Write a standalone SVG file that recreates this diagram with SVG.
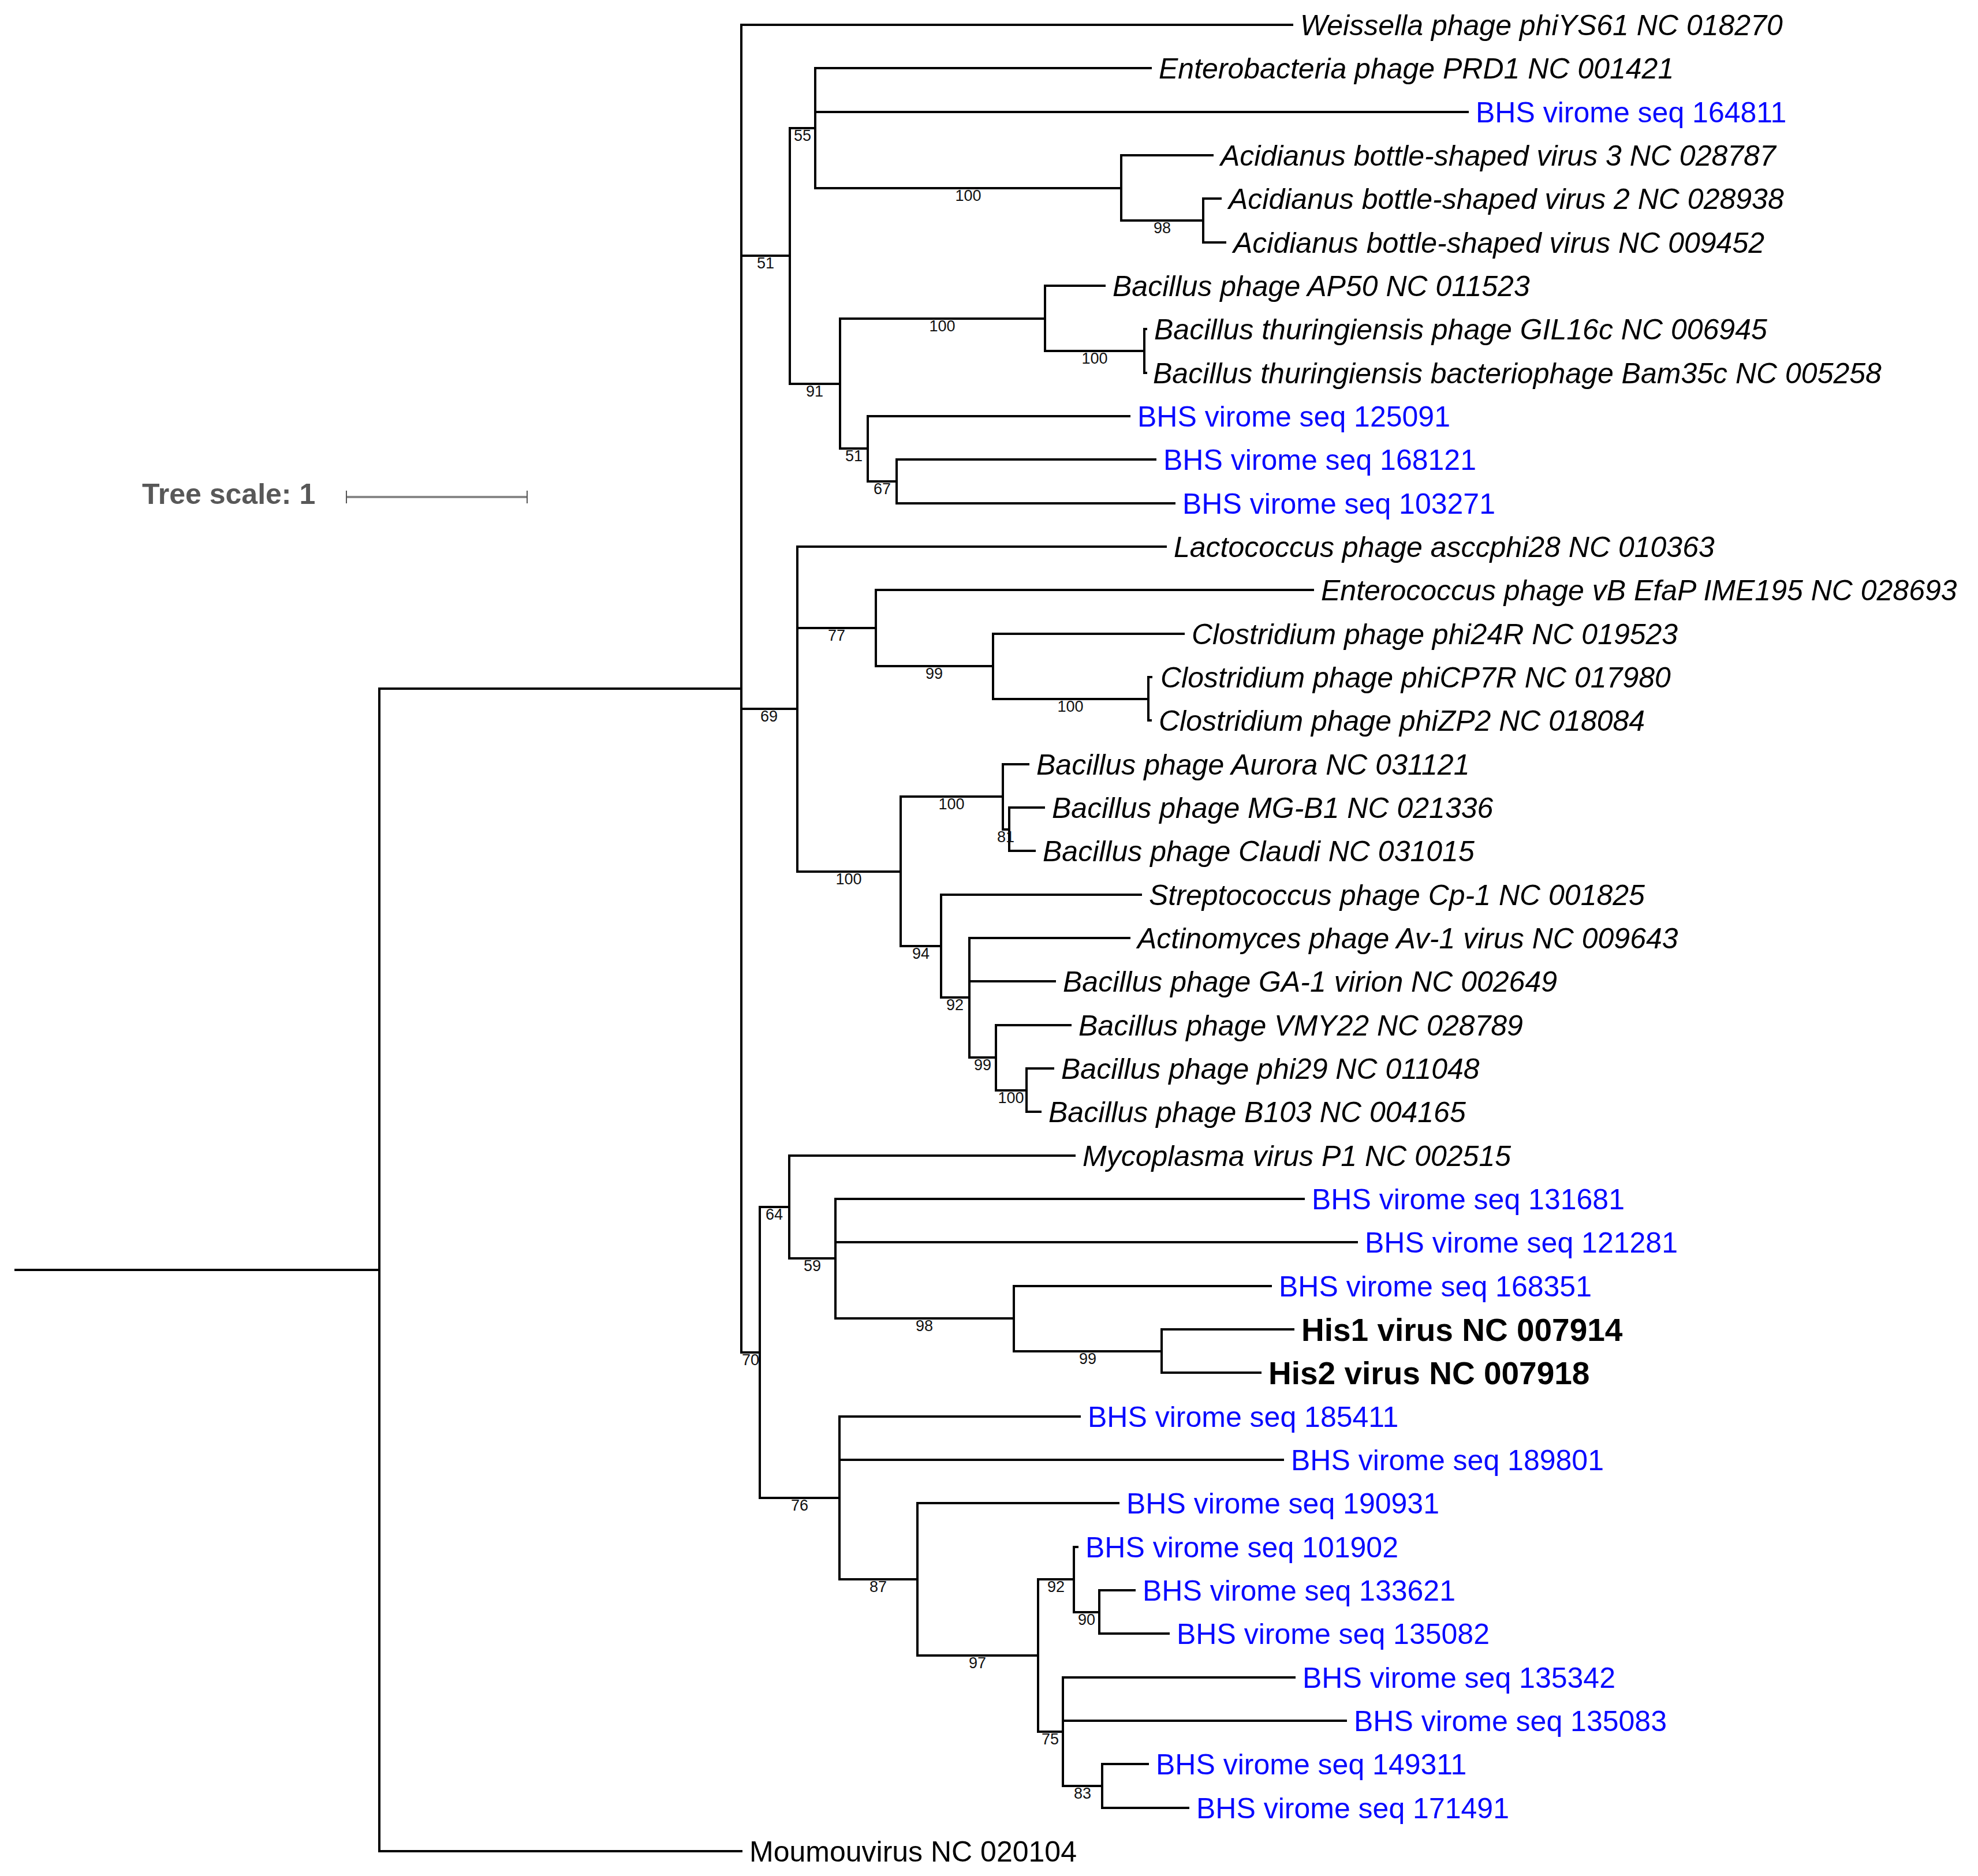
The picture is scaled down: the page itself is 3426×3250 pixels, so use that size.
<svg xmlns="http://www.w3.org/2000/svg" width="3426" height="3250" viewBox="0 0 3426 3250">
<style>
.br{fill:none;stroke:#000;stroke-width:4;stroke-linecap:square}
.lf{font-family:"Liberation Sans",Arial,sans-serif;font-size:50px;font-style:italic;fill:#000}
.bhs{font-family:"Liberation Sans",Arial,sans-serif;font-size:50px;fill:#0a0aff}
.bold{font-family:"Liberation Sans",Arial,sans-serif;font-size:55px;font-weight:bold;fill:#000}
.reg{font-family:"Liberation Sans",Arial,sans-serif;font-size:50px;fill:#000}
.sup{font-family:"Liberation Sans",Arial,sans-serif;font-size:27px;fill:#111;text-anchor:middle}
.scl{font-family:"Liberation Sans",Arial,sans-serif;font-size:50px;font-weight:bold;fill:#585858}
</style>
<rect width="3426" height="3250" fill="#fff"/>
<g id="connectors" class="br">
<path d="M657,1193V3207M27,2200H657M657,1193H1284M657,3207H1284"/>
<path d="M1284,43V2343M1284,43H2238M1284,443H1368M1284,1228H1381M1284,2343H1316"/>
<path d="M1368,222V665M1368,222H1412M1368,665H1455"/>
<path d="M1412,118V326M1412,118H1993M1412,194H2542M1412,326H1942"/>
<path d="M1942,269V382M1942,269H2100M1942,382H2084"/>
<path d="M2084,344V420M2084,344H2114M2084,420H2122"/>
<path d="M1455,552V777M1455,552H1810M1455,777H1503"/>
<path d="M1810,495V608M1810,495H1913M1810,608H1982"/>
<path d="M1982,570V646M1982,570H1985M1982,646H1985"/>
<path d="M1503,721V834M1503,721H1956M1503,834H1553"/>
<path d="M1553,796V872M1553,796H2001M1553,872H2034"/>
<path d="M1381,947V1510M1381,947H2019M1381,1088H1517M1381,1510H1560"/>
<path d="M1517,1022V1154M1517,1022H2274M1517,1154H1720"/>
<path d="M1720,1098V1211M1720,1098H2050M1720,1211H1989"/>
<path d="M1989,1173V1248M1989,1173H1994M1989,1248H1993"/>
<path d="M1560,1380V1639M1560,1380H1737M1560,1639H1630"/>
<path d="M1737,1324V1437M1737,1324H1781M1737,1437H1748"/>
<path d="M1748,1399V1474M1748,1399H1808M1748,1474H1792"/>
<path d="M1630,1550V1728M1630,1550H1976M1630,1728H1679"/>
<path d="M1679,1625V1832M1679,1625H1956M1679,1700H1827M1679,1832H1725"/>
<path d="M1725,1776V1889M1725,1776H1854M1725,1889H1778"/>
<path d="M1778,1851V1926M1778,1851H1824M1778,1926H1802"/>
<path d="M1316,2091V2595M1316,2091H1367M1316,2595H1454"/>
<path d="M1367,2002V2180M1367,2002H1861M1367,2180H1447"/>
<path d="M1447,2077V2284M1447,2077H2258M1447,2152H2350M1447,2284H1756"/>
<path d="M1756,2228V2341M1756,2228H2201M1756,2341H2012"/>
<path d="M2012,2303V2378M2012,2303H2240M2012,2378H2183"/>
<path d="M1454,2454V2736M1454,2454H1870M1454,2529H2222M1454,2736H1589"/>
<path d="M1589,2604V2868M1589,2604H1937M1589,2868H1798"/>
<path d="M1798,2736V3000M1798,2736H1860M1798,3000H1841"/>
<path d="M1860,2680V2793M1860,2680H1866M1860,2793H1904"/>
<path d="M1904,2755V2830M1904,2755H1965M1904,2830H2024"/>
<path d="M1841,2906V3094M1841,2906H2242M1841,2981H2331M1841,3094H1909"/>
<path d="M1909,3056V3132M1909,3056H1988M1909,3132H2058"/>
</g>
<g id="scale">
<text class="scl" x="246" y="873">Tree scale: 1</text>
<path d="M600,861H913" stroke="#888" stroke-width="4"/>
<path d="M600,850V872M913,850V872" stroke="#555" stroke-width="2"/>
</g>
<g id="support">
<g id="n55"><text class="sup" x="1390" y="244">55</text></g>
<g id="n51a"><text class="sup" x="1326" y="465">51</text></g>
<g id="n100a"><text class="sup" x="1677" y="348">100</text></g>
<g id="n98a"><text class="sup" x="2013" y="404">98</text></g>
<g id="n91"><text class="sup" x="1411" y="687">91</text></g>
<g id="n100b"><text class="sup" x="1632" y="574">100</text></g>
<g id="n100c"><text class="sup" x="1896" y="630">100</text></g>
<g id="n51b"><text class="sup" x="1479" y="799">51</text></g>
<g id="n67"><text class="sup" x="1528" y="856">67</text></g>
<g id="n69"><text class="sup" x="1332" y="1250">69</text></g>
<g id="n77"><text class="sup" x="1449" y="1110">77</text></g>
<g id="n99a"><text class="sup" x="1618" y="1176">99</text></g>
<g id="n100e"><text class="sup" x="1854" y="1233">100</text></g>
<g id="n100d"><text class="sup" x="1470" y="1532">100</text></g>
<g id="n100f"><text class="sup" x="1648" y="1402">100</text></g>
<g id="n81"><text class="sup" x="1742" y="1459">81</text></g>
<g id="n94"><text class="sup" x="1595" y="1661">94</text></g>
<g id="n92a"><text class="sup" x="1654" y="1750">92</text></g>
<g id="n99b"><text class="sup" x="1702" y="1854">99</text></g>
<g id="n100g"><text class="sup" x="1751" y="1911">100</text></g>
<g id="n70"><text class="sup" x="1300" y="2365">70</text></g>
<g id="n64"><text class="sup" x="1341" y="2113">64</text></g>
<g id="n59"><text class="sup" x="1407" y="2202">59</text></g>
<g id="n98b"><text class="sup" x="1601" y="2306">98</text></g>
<g id="n99c"><text class="sup" x="1884" y="2363">99</text></g>
<g id="n76"><text class="sup" x="1385" y="2617">76</text></g>
<g id="n87"><text class="sup" x="1521" y="2758">87</text></g>
<g id="n97"><text class="sup" x="1693" y="2890">97</text></g>
<g id="n92b"><text class="sup" x="1829" y="2758">92</text></g>
<g id="n90"><text class="sup" x="1882" y="2815">90</text></g>
<g id="n75"><text class="sup" x="1819" y="3022">75</text></g>
<g id="n83"><text class="sup" x="1875" y="3116">83</text></g>
</g>
<g id="leaves">
<g id="leaf0"><text class="lf" x="2252" y="61">Weissella phage phiYS61 NC 018270</text></g>
<g id="leaf1"><text class="lf" x="2007" y="136">Enterobacteria phage PRD1 NC 001421</text></g>
<g id="leaf2"><text class="bhs" x="2556" y="212">BHS virome seq 164811</text></g>
<g id="leaf3"><text class="lf" x="2114" y="287">Acidianus bottle-shaped virus 3 NC 028787</text></g>
<g id="leaf4"><text class="lf" x="2128" y="362">Acidianus bottle-shaped virus 2 NC 028938</text></g>
<g id="leaf5"><text class="lf" x="2136" y="438">Acidianus bottle-shaped virus NC 009452</text></g>
<g id="leaf6"><text class="lf" x="1927" y="513">Bacillus phage AP50 NC 011523</text></g>
<g id="leaf7"><text class="lf" x="1999" y="588">Bacillus thuringiensis phage GIL16c NC 006945</text></g>
<g id="leaf8"><text class="lf" x="1997" y="664">Bacillus thuringiensis bacteriophage Bam35c NC 005258</text></g>
<g id="leaf9"><text class="bhs" x="1970" y="739">BHS virome seq 125091</text></g>
<g id="leaf10"><text class="bhs" x="2015" y="814">BHS virome seq 168121</text></g>
<g id="leaf11"><text class="bhs" x="2048" y="890">BHS virome seq 103271</text></g>
<g id="leaf12"><text class="lf" x="2033" y="965">Lactococcus phage asccphi28 NC 010363</text></g>
<g id="leaf13"><text class="lf" x="2288" y="1040">Enterococcus phage vB EfaP IME195 NC 028693</text></g>
<g id="leaf14"><text class="lf" x="2064" y="1116">Clostridium phage phi24R NC 019523</text></g>
<g id="leaf15"><text class="lf" x="2010" y="1191">Clostridium phage phiCP7R NC 017980</text></g>
<g id="leaf16"><text class="lf" x="2007" y="1266">Clostridium phage phiZP2 NC 018084</text></g>
<g id="leaf17"><text class="lf" x="1795" y="1342">Bacillus phage Aurora NC 031121</text></g>
<g id="leaf18"><text class="lf" x="1822" y="1417">Bacillus phage MG-B1 NC 021336</text></g>
<g id="leaf19"><text class="lf" x="1806" y="1492">Bacillus phage Claudi NC 031015</text></g>
<g id="leaf20"><text class="lf" x="1990" y="1568">Streptococcus phage Cp-1 NC 001825</text></g>
<g id="leaf21"><text class="lf" x="1970" y="1643">Actinomyces phage Av-1 virus NC 009643</text></g>
<g id="leaf22"><text class="lf" x="1841" y="1718">Bacillus phage GA-1 virion NC 002649</text></g>
<g id="leaf23"><text class="lf" x="1868" y="1794">Bacillus phage VMY22 NC 028789</text></g>
<g id="leaf24"><text class="lf" x="1838" y="1869">Bacillus phage phi29 NC 011048</text></g>
<g id="leaf25"><text class="lf" x="1816" y="1944">Bacillus phage B103 NC 004165</text></g>
<g id="leaf26"><text class="lf" x="1875" y="2020">Mycoplasma virus P1 NC 002515</text></g>
<g id="leaf27"><text class="bhs" x="2272" y="2095">BHS virome seq 131681</text></g>
<g id="leaf28"><text class="bhs" x="2364" y="2170">BHS virome seq 121281</text></g>
<g id="leaf29"><text class="bhs" x="2215" y="2246">BHS virome seq 168351</text></g>
<g id="leaf30"><text class="bold" x="2254" y="2323">His1 virus NC 007914</text></g>
<g id="leaf31"><text class="bold" x="2197" y="2398">His2 virus NC 007918</text></g>
<g id="leaf32"><text class="bhs" x="1884" y="2472">BHS virome seq 185411</text></g>
<g id="leaf33"><text class="bhs" x="2236" y="2547">BHS virome seq 189801</text></g>
<g id="leaf34"><text class="bhs" x="1951" y="2622">BHS virome seq 190931</text></g>
<g id="leaf35"><text class="bhs" x="1880" y="2698">BHS virome seq 101902</text></g>
<g id="leaf36"><text class="bhs" x="1979" y="2773">BHS virome seq 133621</text></g>
<g id="leaf37"><text class="bhs" x="2038" y="2848">BHS virome seq 135082</text></g>
<g id="leaf38"><text class="bhs" x="2256" y="2924">BHS virome seq 135342</text></g>
<g id="leaf39"><text class="bhs" x="2345" y="2999">BHS virome seq 135083</text></g>
<g id="leaf40"><text class="bhs" x="2002" y="3074">BHS virome seq 149311</text></g>
<g id="leaf41"><text class="bhs" x="2072" y="3150">BHS virome seq 171491</text></g>
<g id="leaf42"><text class="reg" x="1298" y="3225">Moumouvirus NC 020104</text></g>
</g>
</svg>
